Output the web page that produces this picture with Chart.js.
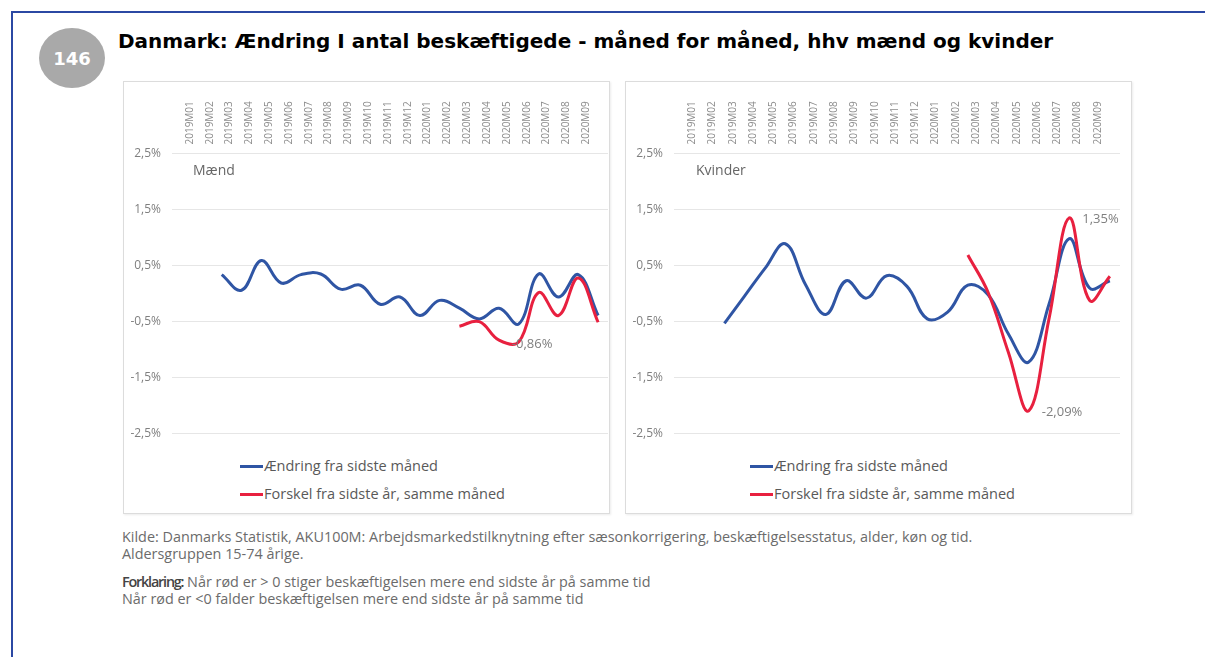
<!DOCTYPE html>
<html>
<head>
<meta charset="utf-8">
<script src="https://cdn.jsdelivr.net/npm/chart.js@4.4.1/dist/chart.umd.min.js"></script>
<style>
  body { margin: 0; background: #fff; width: 1205px; height: 657px; overflow: hidden; position: relative; font-family: "Open Sans", sans-serif; }
  .frame { position: absolute; left: 11px; top: 11px; width: 1300px; height: 700px; border-top: 2px solid #2b48a3; border-left: 2px solid #2b48a3; }
  .badge { position: absolute; left: 39px; top: 28px; width: 66px; height: 60px; border-radius: 50%; background: #a9a9a9; color: #fff;
           font: bold 18px "DejaVu Sans", sans-serif; display: flex; align-items: center; justify-content: center; }
  .title { position: absolute; left: 118px; top: 29px; font: bold 20px "DejaVu Sans", sans-serif; color: #000; white-space: nowrap; }
  .panel { position: absolute; top: 81px; height: 431px; border: 1px solid #dcdcdc; box-shadow: 1px 1px 2px rgba(0,0,0,0.08); }
  canvas { position: absolute; }
  .legend { position: absolute; font-size: 14.5px; color: #595959; line-height: 28px; white-space: nowrap; }
  .legend span.ln { display: inline-block; width: 23px; height: 3px; vertical-align: middle; margin-right: 1px; position: relative; top: -1px; }
  .note { position: absolute; left: 122px; font-size: 14.4px; color: #6b6b6b; line-height: 17px; white-space: nowrap; }
  .note b { color: #444; font-weight: 600; letter-spacing: -1.2px; }
</style>
</head>
<body>
<div class="frame"></div>
<div class="badge">146</div>
<div class="title">Danmark: Ændring I antal beskæftigede - måned for måned, hhv mænd og kvinder</div>

<div class="panel" style="left:123px; width:485px;"></div>
<div class="panel" style="left:625px; width:505px;"></div>

<canvas id="chartMaend" width="485" height="371" style="left:123px; top:81px;"></canvas>
<canvas id="chartKvinder" width="495" height="371" style="left:625px; top:81px;"></canvas>

<div class="legend" style="left:240px; top:452px;">
  <div><span class="ln" style="background:#2f55a4"></span>Ændring fra sidste måned</div>
  <div><span class="ln" style="background:#e8203f"></span>Forskel fra sidste år, samme måned</div>
</div>
<div class="legend" style="left:750px; top:452px;">
  <div><span class="ln" style="background:#2f55a4"></span>Ændring fra sidste måned</div>
  <div><span class="ln" style="background:#e8203f"></span>Forskel fra sidste år, samme måned</div>
</div>

<div class="note" style="top:528px;">Kilde: Danmarks Statistik, AKU100M: Arbejdsmarkedstilknytning efter sæsonkorrigering, beskæftigelsesstatus, alder, køn og tid.<br>Aldersgruppen 15-74 årige.</div>
<div class="note" style="top:573px;"><b>Forklaring:</b> Når rød er &gt; 0 stiger beskæftigelsen mere end sidste år på samme tid<br>Når rød er &lt;0 falder beskæftigelsen mere end sidste år på samme tid</div>

<script>
const months = ["2019M01", "2019M02", "2019M03", "2019M04", "2019M05", "2019M06", "2019M07", "2019M08", "2019M09", "2019M10", "2019M11",
    "2019M12", "2020M01", "2020M02", "2020M03", "2020M04", "2020M05", "2020M06", "2020M07", "2020M08", "2020M09"];
const yTicks = [-2.5, -1.5, -0.5, 0.5, 1.5, 2.5];

// procent, maaned for maaned
const maendAendring = [null, 0.34, 0.06, 0.59, 0.19, 0.34, 0.35, 0.08, 0.15, -0.19, -0.06, -0.39, -0.12, -0.26, -0.45, -0.26, -0.54, 0.35, -0.06, 0.34, -0.39];
const maendForskel = [null, null, null, null, null, null, null, null, null, null, null, null, null, -0.58, -0.50, -0.83, -0.86, 0.02, -0.39, 0.28, -0.51];
const kvinderAendring = [null, -0.53, -0.04, 0.45, 0.89, 0.16, -0.37, 0.23, -0.08, 0.32, 0.13, -0.45, -0.33, 0.15, -0.02, -0.72, -1.22, -0.19, 0.98, 0.10, 0.23];
const kvinderForskel = [null, null, null, null, null, null, null, null, null, null, null, null, null, 0.69, 0.02, -1.05, -2.09, -0.45, 1.35, -0.12, 0.31];

const BLUE = "#2f55a4";
const RED = "#e8203f";
const fmtPct = v => v.toFixed(2).replace(".", ",") + "%";

// tekst inde i plotomraadet: "Mænd"/"Kvinder" og udvalgte datalabels
const annotations = {
    id: "annotations",
    afterDatasetsDraw(chart, args, opts) {
        const { ctx, chartArea } = chart;
        ctx.save();
        ctx.textBaseline = "middle";
        ctx.textAlign = "left";
        ctx.fillStyle = "#666";
        ctx.font = '14px "Open Sans"';
        ctx.fillText(opts.heading, chartArea.left + opts.headingDx, chartArea.top + 18);
        ctx.font = '13px "Open Sans"';
        ctx.fillStyle = "#7f7f7f";
        (opts.labels || []).forEach(l => {
            const pt = chart.getDatasetMeta(l.ds).data[l.i];
            const v = chart.data.datasets[l.ds].data[l.i];
            ctx.fillText(fmtPct(v), pt.x + l.dx, pt.y + l.dy);
        });
        ctx.restore();
    }
};

function makeChart(id, aendring, forskel, heading, headingDx, labels) {
    return new Chart(document.getElementById(id), {
        type: "line",
        data: {
            labels: months,
            datasets: [
                { label: "Ændring fra sidste måned", data: aendring, borderColor: BLUE, order: 2 },
                { label: "Forskel fra sidste år, samme måned", data: forskel, borderColor: RED, order: 1 },
            ],
        },
        options: {
            responsive: false,
            animation: false,
            layout: { padding: { left: 0, right: 0, top: 0, bottom: 13.5 } },
            elements: {
                line: { borderWidth: 3, tension: 0.4, fill: false },
                point: { radius: 0 },
            },
            plugins: {
                legend: { display: false },
                tooltip: { enabled: false },
                annotations: { heading, headingDx, labels },
            },
            scales: {
                x: {
                    position: "top",
                    offset: true,
                    grid: { display: false, drawTicks: false },
                    border: { display: false },
                    ticks: { autoSkip: false, minRotation: 90, maxRotation: 90, padding: 9, color: "#8c8c8c", font: { family: "Open Sans", size: 10 } },
                    afterFit: s => { s.height = 72.5; },
                },
                y: {
                    min: -2.5,
                    max: 2.5,
                    afterBuildTicks: s => { s.ticks = yTicks.map(v => ({ value: v })); },
                    grid: { color: "#e6e6e6", lineWidth: 1, drawTicks: true, tickLength: 20 },
                    border: { display: false },
                    ticks: { padding: 11, color: "#7f7f7f", font: { family: "Open Sans", size: 12 }, callback: v => v.toFixed(1).replace(".", ",") + "%" },
                    afterFit: s => { s.width = 69; },
                },
            },
        },
        plugins: [annotations],
    });
}

makeChart("chartMaend", maendAendring, maendForskel, "Mænd", 1, [{ ds: 1, i: 16, dx: -7, dy: 2 }]);
makeChart("chartKvinder", kvinderAendring, kvinderForskel, "Kvinder", 2, [
    { ds: 1, i: 18, dx: 13, dy: 1 },
    { ds: 1, i: 16, dx: 13, dy: 1 },
]);
</script>
</body>
</html>
